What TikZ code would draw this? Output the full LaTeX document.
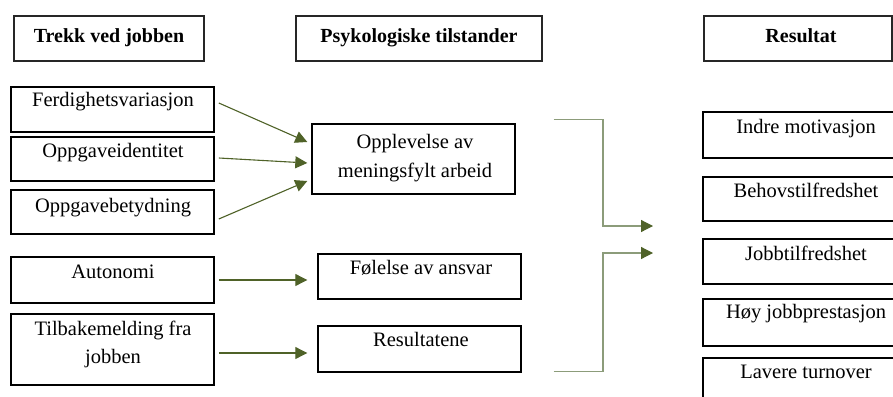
\documentclass[tikz,border=0pt]{standalone}
\usepackage{fontspec}
\setmainfont{Liberation Serif}
\usetikzlibrary{arrows.meta}
\definecolor{arrgreen}{HTML}{4F6228}
\definecolor{lightgreen}{HTML}{8C9C7A}
\begin{document}
\begin{tikzpicture}[x=1pt,y=-1pt,
  hbox/.style={draw=black!85,line width=1.3pt,minimum width=#1,inner sep=0pt,minimum height=45pt},
  lbox/.style={draw=black,line width=1.6pt,minimum width=203pt,inner sep=0pt},
  mbox/.style={draw=black,line width=1.4pt,minimum width=203pt,inner sep=0pt},
  rbox/.style={draw=black,line width=1.4pt,minimum width=206pt,inner sep=0pt},
  txt/.style={anchor=base,inner sep=0pt,font=\fontsize{20.5}{24}\selectfont},
  htxt/.style={anchor=base,inner sep=0pt,font=\fontsize{20}{24}\selectfont\bfseries},
  arr/.style={draw=arrgreen,line width=1.1pt,-{Triangle[length=12pt,width=12pt,color=arrgreen]}},
  elb/.style={draw=lightgreen,line width=1.2pt,-{Triangle[length=12pt,width=12pt,color=arrgreen]}}]
\useasboundingbox (0,0) rectangle (893,396);
\begin{scope}
\clip (0,0) rectangle (893,396);
% headers
\node[hbox=190pt] (h1) at (109,38.5) {};
\node[htxt] (h1t) at (109,43) {Trekk ved jobben};
\node[hbox=246pt] (h2) at (419,38.5) {};
\node[htxt] (h2t) at (419,43) {Psykologiske tilstander};
\node[hbox=188pt] (h3) at (798,38.5) {};
\node[htxt] (h3t) at (801,43) {Resultat};
% left boxes
\node[lbox,minimum height=45pt] (f1) at (112.5,109.5) {};
\node[txt] (f1t) at (113,106) {Ferdighetsvariasjon};
\node[lbox,minimum height=44pt] (f2) at (112.5,159) {};
\node[txt] (f2t) at (113,157) {Oppgaveidentitet};
\node[lbox,minimum height=44pt] (f3) at (112.5,212) {};
\node[txt] (f3t) at (113,212) {Oppgavebetydning};
\node[lbox,minimum height=46pt] (f4) at (112.5,280) {};
\node[txt] (f4t) at (113,278) {Autonomi};
\node[lbox,minimum height=71pt] (f5) at (112.5,349.5) {};
\node[txt] (f5t) at (113,335) {Tilbakemelding fra};
\node[txt] (f5u) at (113,363) {jobben};
% middle boxes
\node[mbox,minimum height=70pt] (m1) at (413.5,159) {};
\node[txt] (m1t) at (415,148) {Opplevelse av};
\node[txt] (m1u) at (415,177) {meningsfylt arbeid};
\node[mbox,minimum height=45pt] (m2) at (419.5,276.5) {};
\node[txt] (m2t) at (421,274) {Følelse av ansvar};
\node[mbox,minimum height=46pt] (m3) at (419.5,349) {};
\node[txt] (m3t) at (421,346) {Resultatene};
% right boxes
\node[rbox,minimum height=46pt] (r1) at (806,135) {};
\node[txt] (r1t) at (806,133) {Indre motivasjon};
\node[rbox,minimum height=44pt] (r2) at (806,199) {};
\node[txt] (r2t) at (806,197) {Behovstilfredshet};
\node[rbox,minimum height=45pt] (r3) at (806,261.5) {};
\node[txt] (r3t) at (806,260) {Jobbtilfredshet};
\node[rbox,minimum height=47pt] (r4) at (806,322.5) {};
\node[txt] (r4t) at (806,318) {Høy jobbprestasjon};
\node[rbox,minimum height=46pt] (r5) at (806,381) {};
\node[txt] (r5t) at (806,378) {Lavere turnover};
\end{scope}
% arrows left -> middle
\draw[arr] ([xshift=4pt,yshift=6.5pt]f1.east) -- ([xshift=-4pt,yshift=17pt]m1.west);
\draw[arr] ([xshift=4pt,yshift=1pt]f2.east) -- ([xshift=-4pt,yshift=-4pt]m1.west);
\draw[arr] ([xshift=4pt,yshift=-7pt]f3.east) -- ([xshift=-4pt,yshift=-22pt]m1.west);
\draw[arr] ([xshift=4pt]f4.east) -- ([xshift=-10pt]f4.east -| m2.west);
\draw[arr] ([xshift=4pt,yshift=-3.5pt]f5.east) -- ([xshift=-10pt,yshift=-3.5pt]f5.east -| m3.west);
% elbows middle -> right
\coordinate (j1) at (653,226);
\coordinate (j2) at (653,253);
\draw[elb] ([xshift=38pt,yshift=4pt]m1.north east) -| ([xshift=-50pt]j1) -- (j1);
\draw[elb] ([xshift=32pt,yshift=1pt]m3.south east) -| ([xshift=-50pt]j2) -- (j2);
\end{tikzpicture}
\end{document}
